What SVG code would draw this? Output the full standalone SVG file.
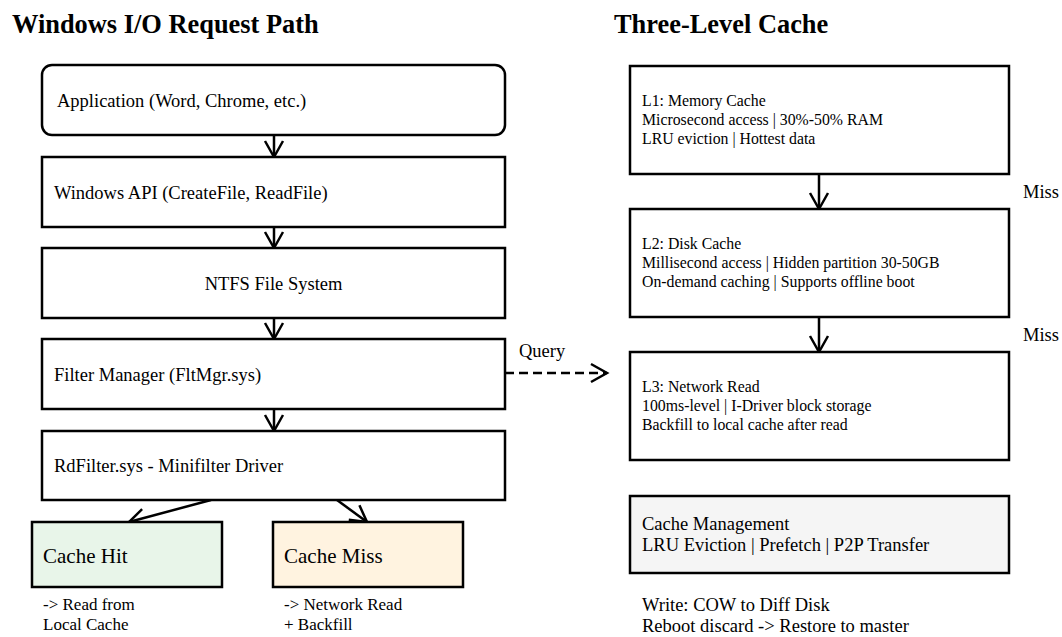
<svg xmlns="http://www.w3.org/2000/svg" width="1062" height="637" viewBox="0 0 1062 637">
  <style>
    text { font-family: "Liberation Serif", "Times New Roman", serif; fill: #000; }
    .title { font-size: 26.4px; font-weight: bold; }
    .lt { font-size: 18.5px; }
    .rt { font-size: 15.8px; }
    .big { font-size: 21px; }
    .sub { font-size: 17px; }
    .box { fill: #fff; stroke: #000; stroke-width: 2.5; }
    .conn { stroke: #000; stroke-width: 2.5; fill: none; }
  </style>
  <defs>
    <marker id="vhead" markerUnits="userSpaceOnUse" markerWidth="22" markerHeight="24" viewBox="0 0 22 24" refX="18" refY="12" orient="auto">
      <path d="M2,3 L18,12 L2,21" fill="none" stroke="#000" stroke-width="2.5" stroke-dasharray="none"/>
    </marker>
  </defs>
  <rect width="1062" height="637" fill="#fff"/>

  <text class="title" x="12" y="33">Windows I/O Request Path</text>
  <text class="title" x="614" y="33">Three-Level Cache</text>

  <g id="connectors">
    <line class="conn" x1="274" y1="135" x2="274" y2="157" marker-end="url(#vhead)"/>
    <line class="conn" x1="274" y1="227" x2="274" y2="248" marker-end="url(#vhead)"/>
    <line class="conn" x1="274" y1="318" x2="274" y2="339" marker-end="url(#vhead)"/>
    <line class="conn" x1="274" y1="409" x2="274" y2="431" marker-end="url(#vhead)"/>
    <line class="conn" x1="211" y1="500" x2="129" y2="522" marker-end="url(#vhead)"/>
    <line class="conn" x1="337" y1="500" x2="367" y2="522" marker-end="url(#vhead)"/>
    <line class="conn" x1="505" y1="373" x2="607" y2="373" stroke-dasharray="9,5" marker-end="url(#vhead)"/>
    <text class="lt" x="519" y="357">Query</text>
    <line class="conn" x1="819" y1="174" x2="819" y2="209" marker-end="url(#vhead)"/>
    <text class="lt" x="1023" y="198">Miss</text>
    <line class="conn" x1="819" y1="317" x2="819" y2="352" marker-end="url(#vhead)"/>
    <text class="lt" x="1023" y="341">Miss</text>
  </g>

  <g id="app">
    <rect class="box" x="42" y="65" width="463" height="70" rx="10"/>
    <text class="lt" x="57" y="107">Application (Word, Chrome, etc.)</text>
  </g>
  <g id="winapi">
    <rect class="box" x="42" y="157" width="463" height="70"/>
    <text class="lt" x="54" y="199">Windows API (CreateFile, ReadFile)</text>
  </g>
  <g id="ntfs">
    <rect class="box" x="42" y="248" width="463" height="70"/>
    <text class="lt" x="273.5" y="290" text-anchor="middle">NTFS File System</text>
  </g>
  <g id="fltmgr">
    <rect class="box" x="42" y="339" width="463" height="70"/>
    <text class="lt" x="54" y="381">Filter Manager (FltMgr.sys)</text>
  </g>
  <g id="rdfilter">
    <rect class="box" x="42" y="431" width="463" height="69"/>
    <text class="lt" x="54" y="472">RdFilter.sys - Minifilter Driver</text>
  </g>
  <g id="cachehit">
    <rect class="box" x="32" y="522" width="190" height="65" style="fill:#e8f5e9"/>
    <text class="big" x="43" y="563">Cache Hit</text>
    <text class="sub" x="43" y="610">-&gt; Read from</text>
    <text class="sub" x="43" y="630">Local Cache</text>
  </g>
  <g id="cachemiss">
    <rect class="box" x="273" y="522" width="190" height="65" style="fill:#fff3e0"/>
    <text class="big" x="284" y="563">Cache Miss</text>
    <text class="sub" x="284" y="610">-&gt; Network Read</text>
    <text class="sub" x="284" y="630">+ Backfill</text>
  </g>

  <g id="l1">
    <rect class="box" x="630" y="66" width="379" height="108"/>
    <text class="rt" x="642" y="106">L1: Memory Cache</text>
    <text class="rt" x="642" y="125">Microsecond access | 30%-50% RAM</text>
    <text class="rt" x="642" y="144">LRU eviction | Hottest data</text>
  </g>
  <g id="l2">
    <rect class="box" x="630" y="209" width="379" height="108"/>
    <text class="rt" x="642" y="249">L2: Disk Cache</text>
    <text class="rt" x="642" y="268">Millisecond access | Hidden partition 30-50GB</text>
    <text class="rt" x="642" y="287">On-demand caching | Supports offline boot</text>
  </g>
  <g id="l3">
    <rect class="box" x="630" y="352" width="379" height="108"/>
    <text class="rt" x="642" y="392">L3: Network Read</text>
    <text class="rt" x="642" y="411">100ms-level | I-Driver block storage</text>
    <text class="rt" x="642" y="430">Backfill to local cache after read</text>
  </g>
  <g id="cachemgmt">
    <rect class="box" x="630" y="496" width="379" height="77" style="fill:#f5f5f5"/>
    <text class="lt" x="642" y="530">Cache Management</text>
    <text class="lt" x="642" y="551">LRU Eviction | Prefetch | P2P Transfer</text>
    <text class="lt" x="642" y="611">Write: COW to Diff Disk</text>
    <text class="lt" x="642" y="632">Reboot discard -&gt; Restore to master</text>
  </g>
</svg>
